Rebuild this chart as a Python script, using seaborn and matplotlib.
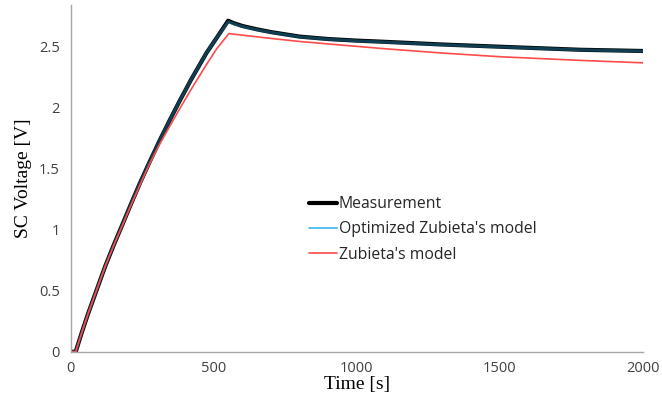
import matplotlib
matplotlib.use("Agg")
import matplotlib.pyplot as plt
import seaborn as sns
import pandas as pd

# ---- data ----
time_meas = [0, 17, 40, 60, 90, 120, 150, 177, 210, 241, 276, 310, 346, 380, 420,
             474, 510, 550, 570, 600, 650, 700, 800, 900, 1000, 1100, 1300, 1500,
             1780, 2000]
measurement = [0, 0, 0.17, 0.31, 0.505, 0.70, 0.875, 1.025, 1.21, 1.38, 1.56, 1.73,
               1.90, 2.055, 2.23, 2.45, 2.575, 2.715, 2.695, 2.672, 2.645, 2.622,
               2.585, 2.565, 2.552, 2.542, 2.52, 2.502, 2.477, 2.467]
optimized = [0, 0, 0.17, 0.31, 0.505, 0.70, 0.875, 1.025, 1.21, 1.38, 1.56, 1.73,
             1.90, 2.055, 2.23, 2.45, 2.575, 2.707, 2.69, 2.668, 2.642, 2.62,
             2.583, 2.563, 2.55, 2.54, 2.518, 2.5, 2.476, 2.466]

time_zub = [0, 17, 40, 60, 90, 120, 150, 177, 210, 241, 276, 310, 346, 380, 420,
            474, 510, 553, 600, 700, 800, 1000, 1100, 1300, 1500, 1780, 2000]
zubieta = [0, 0, 0.17, 0.31, 0.505, 0.70, 0.873, 1.02, 1.20, 1.365, 1.545, 1.70,
           1.85, 1.99, 2.15, 2.355, 2.485, 2.61, 2.597, 2.57, 2.545, 2.505, 2.485,
           2.45, 2.42, 2.39, 2.37]

x_ticks = [0, 500, 1000, 1500, 2000]
y_ticks = [0, 0.5, 1, 1.5, 2, 2.5]
y_tick_labels = ["0", "0.5", "1", "1.5", "2", "2.5"]

sns.set_theme(style="white")
plt.rcParams["font.family"] = ["Open Sans", "DejaVu Sans"]

fig, ax = plt.subplots(figsize=(6.62, 4.09), dpi=100)
fig.subplots_adjust(left=0.107, right=0.971, top=0.988, bottom=0.140)

df_m = pd.DataFrame({"t": time_meas, "v": measurement})
df_o = pd.DataFrame({"t": time_meas, "v": optimized})
df_z = pd.DataFrame({"t": time_zub, "v": zubieta})

sns.lineplot(data=df_m, x="t", y="v", ax=ax, color="black", lw=3.0,
             label="Measurement", sort=False)
sns.lineplot(data=df_o, x="t", y="v", ax=ax, color="#29a3d6", lw=2.2, alpha=0.38,
             label="Optimized Zubieta's model", sort=False)
sns.lineplot(data=df_z, x="t", y="v", ax=ax, color="#ff4b4b", lw=1.2,
             label="Zubieta's model", sort=False)

ax.set_xlim(0, 2000)
ax.set_ylim(0, 2.845)
ax.set_xticks(x_ticks)
ax.set_xticklabels([str(x) for x in x_ticks])
ax.set_yticks(y_ticks)
ax.set_yticklabels(y_tick_labels)

for side in ["top", "right"]:
    ax.spines[side].set_visible(False)
for side in ["left", "bottom"]:
    ax.spines[side].set_color("#a6a6a6")
    ax.spines[side].set_linewidth(1.0)
ax.tick_params(axis="both", which="major", direction="out", length=4, width=1,
               color="#a6a6a6", labelsize=10.5, labelcolor="#404040", pad=3)
ax.tick_params(axis="y", pad=4)

ax.set_xlabel("Time [s]", family=["Liberation Serif"], fontsize=14, color="black", labelpad=0)
ax.set_ylabel("SC Voltage [V]", family=["Liberation Serif"], fontsize=14, color="black", labelpad=5)

leg = ax.legend(loc="upper left", bbox_to_anchor=(0.405, 0.467), frameon=False,
                handlelength=1.8, handletextpad=0.1, labelspacing=0.6,
                fontsize=11.3, borderaxespad=0)
for t in leg.get_texts():
    t.set_color("#262626")
leg.get_lines()[1].set_color("#3cb6ea")
leg.get_lines()[1].set_alpha(1.0)
leg.get_lines()[1].set_linewidth(1.2)

fig.savefig("out.png", dpi=100)
